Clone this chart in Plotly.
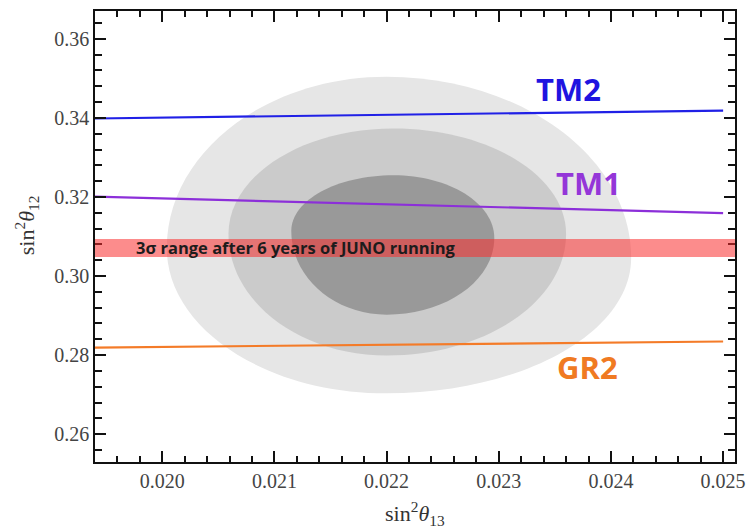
import plotly.graph_objects as go

# ---- data ----
x_ends = [0.0194, 0.0250]
tm2_y = [0.33985, 0.34186]
tm1_y = [0.32008, 0.31592]
gr2_y = [0.28191, 0.28343]

model_names = ["TM2", "TM1", "GR2"]
model_label_x = [0.02362, 0.02380, 0.02379]
model_label_y = [0.34741, 0.32348, 0.27688]
model_colors = ["#1f14e0", "#9436d8", "#f07a22"]

juno_band = [0.30484, 0.30937]
juno_text = "3σ range after 6 years of JUNO running"

# contour regions (outer -> inner): extreme points of each region
contour_names = ["3σ", "2σ", "1σ"]
contour_colors = ["#e6e6e6", "#cbcbcb", "#999999"]
top_x = [0.02200, 0.02206, 0.02206]
top_y = [0.35043, 0.33733, 0.32549]
right_x = [0.02418, 0.02360, 0.02296]
right_y = [0.30458, 0.31063, 0.30962]
bottom_x = [0.02200, 0.02200, 0.02200]
bottom_y = [0.27033, 0.27990, 0.29023]
left_x = [0.02004, 0.02059, 0.02115]
left_y = [0.30710, 0.31063, 0.31139]

x_ticks = [0.020, 0.021, 0.022, 0.023, 0.024, 0.025]
y_ticks = [0.26, 0.28, 0.30, 0.32, 0.34, 0.36]
x_range = [0.0194, 0.025106]
y_range = [0.25295, 0.36705]

SERIF = "Liberation Serif, DejaVu Serif, serif"

fig = go.Figure()

K = 0.5523


def egg_path(xt, yt, xr, yr, xb, yb, xl, yl):
    p = f"M {xr},{yr} "
    p += f"C {xr},{yr + K*(yt-yr)} {xt + K*(xr-xt)},{yt} {xt},{yt} "
    p += f"C {xt - K*(xt-xl)},{yt} {xl},{yl + K*(yt-yl)} {xl},{yl} "
    p += f"C {xl},{yl - K*(yl-yb)} {xb - K*(xb-xl)},{yb} {xb},{yb} "
    p += f"C {xb + K*(xr-xb)},{yb} {xr},{yr - K*(yr-yb)} {xr},{yr} Z"
    return p


shapes = []
for i in range(len(contour_names)):
    shapes.append(dict(
        type="path", xref="x", yref="y", layer="below",
        path=egg_path(top_x[i], top_y[i], right_x[i], right_y[i],
                      bottom_x[i], bottom_y[i], left_x[i], left_y[i]),
        fillcolor=contour_colors[i], line=dict(width=0),
    ))

shapes.append(dict(
    type="rect", xref="x domain", yref="y", x0=0, x1=1,
    y0=juno_band[0], y1=juno_band[1], layer="above",
    fillcolor="rgba(250,45,45,0.55)", line=dict(width=0),
))

for name, ys, col in zip(model_names, [tm2_y, tm1_y, gr2_y],
                         ["#2020e6", "#8c2fd9", "#f47b28"]):
    fig.add_trace(go.Scatter(x=x_ends, y=ys, mode="lines", name=name,
                             line=dict(color=col, width=2.2),
                             showlegend=False, hoverinfo="skip"))

annotations = []
for name, lx, ly, col in zip(model_names, model_label_x, model_label_y, model_colors):
    annotations.append(dict(
        x=lx, y=ly, xref="x", yref="y", text=f"<b>{name}</b>", showarrow=False,
        font=dict(family="Open Sans", size=31, color=col),
        xanchor="center", yanchor="middle",
    ))

annotations.append(dict(
    x=0.02119, y=sum(juno_band) / 2, xref="x", yref="y", text=f"<b>{juno_text}</b>",
    showarrow=False, font=dict(family="Open Sans", size=16.5, color="#1c1c1c"),
    xanchor="center", yanchor="middle",
))

annotations.append(dict(
    x=0.5, y=0, xref="paper", yref="paper", yshift=-51,
    text="sin<sup>2</sup><i>θ</i><sub>13</sub>", showarrow=False,
    font=dict(family=SERIF, size=22, color="#333333"),
    xanchor="center", yanchor="middle",
))
annotations.append(dict(
    x=0, y=0.525, xref="paper", yref="paper", xshift=-69,
    text="sin<sup>2</sup><i>θ</i><sub>12</sub>", showarrow=False, textangle=-90,
    font=dict(family=SERIF, size=22, color="#333333"),
    xanchor="center", yanchor="middle",
))

axis_common = dict(
    showgrid=False, zeroline=False, showline=True, linecolor="#111111", linewidth=1.5,
    mirror="ticks", ticks="inside", ticklen=11, tickwidth=2, tickcolor="#111111",
    tickfont=dict(family=SERIF, size=20, color="#444444"),
)

fig.update_layout(
    width=754, height=530,
    margin=dict(l=95, r=12, t=9, b=68),
    paper_bgcolor="white", plot_bgcolor="white",
    font=dict(family=SERIF, size=20, color="#444444"),
    shapes=shapes, annotations=annotations,
    xaxis=dict(range=x_range, tickvals=x_ticks, tickformat=".3f",
               minor=dict(dtick=0.0002, tick0=0.020, ticks="inside", ticklen=6,
                          tickwidth=1.5, tickcolor="#111111"),
               **axis_common),
    yaxis=dict(range=y_range, tickvals=y_ticks, tickformat=".2f",
               minor=dict(dtick=0.004, tick0=0.26, ticks="inside", ticklen=7,
                          tickwidth=1.5, tickcolor="#111111"),
               **axis_common),
)

fig.write_html("out.html")
